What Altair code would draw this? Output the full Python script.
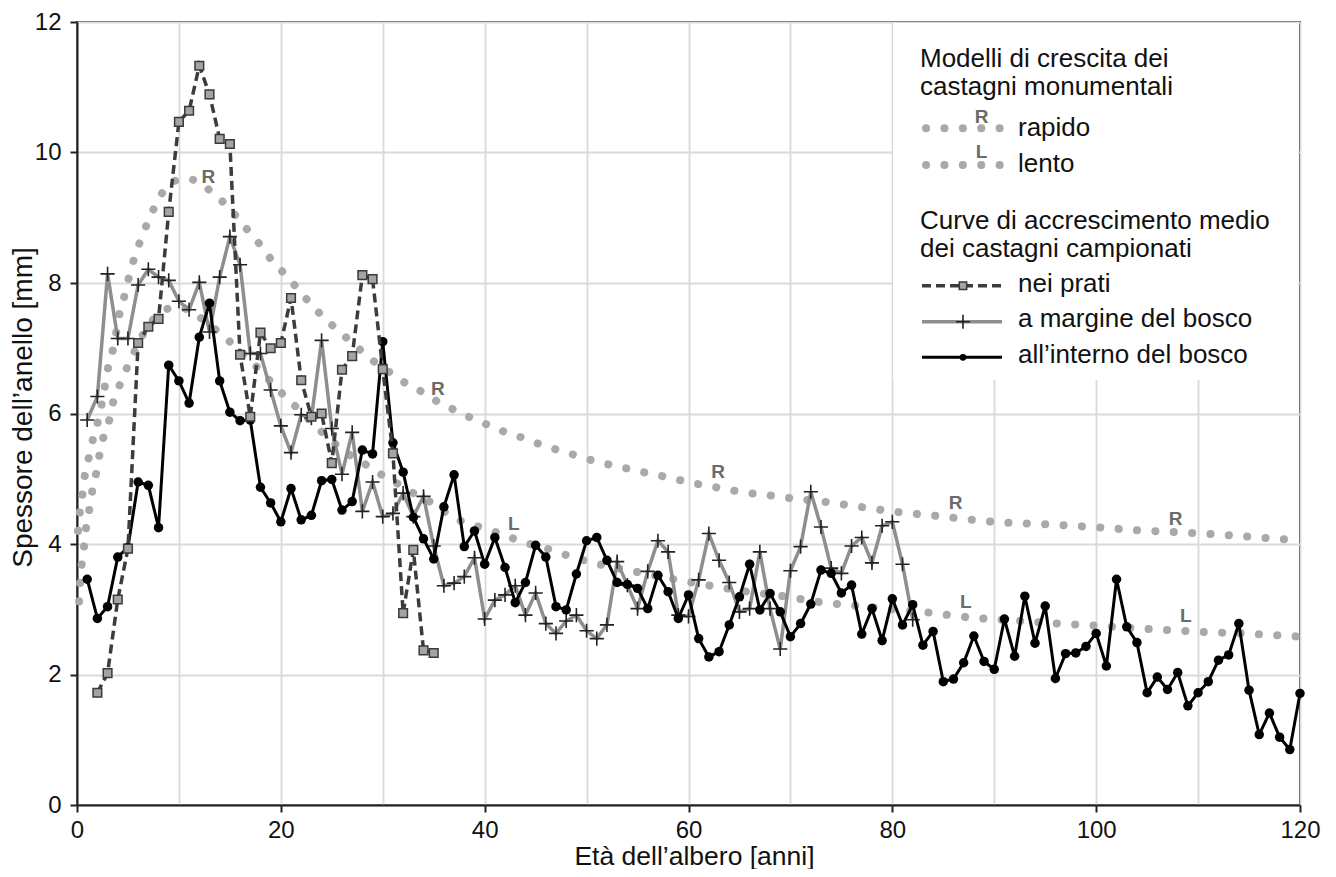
import altair as alt
import pandas as pd

# ---------------- data ----------------
prati_x = list(range(2, 36))
prati_y = [1.72, 2.02, 3.15, 3.93, 7.08, 7.33, 7.45, 9.09, 10.47, 10.64,
           11.33, 10.89, 10.21, 10.13, 6.9, 5.95, 7.24, 7.0, 7.08, 7.77,
           6.51, 5.95, 6.0, 5.24, 6.67, 6.88, 8.12, 8.06, 6.68, 5.39,
           2.94, 3.91, 2.37, 2.33]

margine_x = list(range(1, 83))
margine_y = [5.9, 6.26, 8.14, 7.15, 7.15, 7.97, 8.21, 8.09, 8.04, 7.72,
             7.59, 8.01, 7.25, 8.09, 8.71, 8.28, 6.92, 6.92, 6.36, 5.81,
             5.4, 5.98, 5.93, 7.12, 5.77, 5.07, 5.71, 4.5, 4.95, 4.42,
             4.47, 4.78, 4.42, 4.73, 3.97, 3.36, 3.4, 3.5, 3.79, 2.85,
             3.14, 3.22, 3.36, 2.91, 3.25, 2.78, 2.63, 2.82, 2.91, 2.67,
             2.55, 2.76, 3.73, 3.37, 3.01, 3.58, 4.05, 3.88, 2.91, 2.89,
             3.45, 4.16, 3.75, 3.41, 2.96, 3.01, 3.88, 3.01, 2.39, 3.59,
             3.96, 4.8, 4.26, 3.63, 3.55, 3.97, 4.1, 3.71, 4.28, 4.34,
             3.69, 2.84]

interno_x = list(range(1, 121))
interno_y = [3.46, 2.86, 3.04, 3.8, 3.95, 4.95, 4.9, 4.25, 6.74, 6.5,
             6.16, 7.17, 7.69, 6.5, 6.02, 5.89, 5.9, 4.87, 4.63, 4.34,
             4.85, 4.37, 4.44, 4.97, 4.99, 4.52, 4.65, 5.44, 5.38, 7.1,
             5.55, 5.1, 4.41, 4.08, 3.77, 4.57, 5.06, 3.96, 4.2, 3.69,
             4.1, 3.64, 3.1, 3.41, 3.98, 3.8, 3.04, 2.99, 3.54, 4.05,
             4.1, 3.75, 3.41, 3.38, 3.32, 3.01, 3.52, 3.27, 2.86, 3.22,
             2.55, 2.27, 2.35, 2.76, 3.19, 3.69, 2.99, 3.24, 2.96, 2.58,
             2.78, 3.08, 3.6, 3.55, 3.25, 3.37, 2.62, 3.01, 2.52, 3.16,
             2.76, 3.07, 2.45, 2.66, 1.89, 1.93, 2.18, 2.59, 2.2, 2.08,
             2.85, 2.28, 3.2, 2.48, 3.05, 1.94, 2.32, 2.33, 2.43, 2.63,
             2.13, 3.46, 2.73, 2.49, 1.72, 1.96, 1.77, 2.03, 1.52, 1.72,
             1.89, 2.22, 2.3, 2.78, 1.76, 1.08, 1.41, 1.04, 0.85, 1.71]

rapido_x = [0.1, 0.3, 0.56, 0.78, 1.2, 1.6, 2.09, 2.6, 3.07, 3.56,
            4.2, 4.7, 5.1, 5.6, 6.2, 6.9, 7.6, 8.4, 9.1, 9.9,
            10.8, 11.6, 13.1, 14.4, 15.7, 16.8, 18.0, 19.0, 20.3, 21.5,
            22.7, 23.9, 25.2, 26.6, 27.9, 29.2, 30.8, 32.3, 34.0, 35.4,
            37.1, 38.7, 40.4, 42.1, 43.7, 45.4, 47.2, 48.9, 50.6, 52.4,
            54.2, 55.9, 57.7, 59.4, 61.2, 63.0, 64.7, 66.5, 68.3, 70.1,
            73.7, 75.5, 80.0, 85.0, 89.9, 95.3, 100.6, 104.2, 107.9, 111.5,
            115.1, 118.7, 120.0]
rapido_y = [4.2, 4.52, 4.79, 5.07, 5.35, 5.63, 5.9, 6.3, 6.72, 7.0,
            7.55, 7.83, 8.09, 8.37, 8.64, 8.92, 9.16, 9.39, 9.52, 9.58,
            9.6, 9.57, 9.41, 9.23, 9.01, 8.8, 8.58, 8.37, 8.15, 7.94,
            7.72, 7.52, 7.33, 7.14, 6.96, 6.79, 6.62, 6.46, 6.32, 6.18,
            6.05, 5.93, 5.82, 5.71, 5.63, 5.53, 5.44, 5.36, 5.28, 5.21,
            5.15, 5.09, 5.03, 4.97, 4.91, 4.86, 4.81, 4.77, 4.74, 4.7,
            4.64, 4.6, 4.5, 4.42, 4.34, 4.3, 4.25, 4.21, 4.18, 4.15,
            4.11, 4.07, 4.06]

lento_x = [0.2, 0.3, 0.46, 0.69, 0.88, 1.2, 1.54, 1.9, 2.19, 2.58,
           3.17, 3.56, 4.2, 4.9, 5.8, 6.8, 8.0, 9.0, 10.0, 11.0,
           12.0, 13.0, 15.0, 17.6, 20.1, 21.5, 23.8, 26.0, 28.4, 29.9,
           31.5, 33.0, 34.6, 36.3, 38.0, 40.0, 42.0, 44.0, 46.3, 48.0,
           51.5, 55.0, 58.6, 62.2, 65.8, 69.3, 72.9, 76.0, 80.0, 83.5,
           87.2, 92.7, 96.3, 99.9, 103.5, 107.1, 110.7, 114.3, 117.9, 120.0]
lento_y = [3.12, 3.4, 3.68, 3.96, 4.24, 4.52, 4.85, 5.1, 5.35, 5.63,
           5.9, 6.18, 6.44, 6.7, 7.0, 7.3, 7.52, 7.61, 7.63, 7.58,
           7.48, 7.36, 7.1, 6.72, 6.31, 6.1, 5.75, 5.45, 5.21, 5.06,
           4.92, 4.78, 4.65, 4.47, 4.33, 4.24, 4.13, 4.02, 3.92, 3.83,
           3.68, 3.57, 3.46, 3.36, 3.27, 3.2, 3.11, 3.06, 3.0, 2.95,
           2.88, 2.82, 2.78, 2.75, 2.71, 2.68, 2.65, 2.63, 2.6, 2.58]

r_label_x = [12.9, 35.4, 62.9, 86.2, 107.8]
r_label_y = [9.62, 6.38, 5.1, 4.63, 4.39]
l_label_x = [42.85, 87.2, 108.8]
l_label_y = [4.3, 3.11, 2.89]

x_grid = list(range(0, 121, 10))
y_grid = list(range(0, 13, 2))

# ---------------- tables ----------------
df_prati = pd.DataFrame({"x": prati_x, "y": prati_y})
df_margine = pd.DataFrame({"x": margine_x, "y": margine_y})
df_interno = pd.DataFrame({"x": interno_x, "y": interno_y})
df_rapido = pd.DataFrame({"x": rapido_x, "y": rapido_y})
df_lento = pd.DataFrame({"x": lento_x, "y": lento_y})
df_lab = pd.DataFrame({"x": r_label_x + l_label_x, "y": r_label_y + l_label_y,
                       "t": ["R"] * len(r_label_x) + ["L"] * len(l_label_x)})
one = pd.DataFrame({"v": [0]})

FONT = "Liberation Sans"
W, H = 1223, 783
DOT = "#a9a9a9"
PLUS = "M-1,0L1,0M0,-1L0,1"
LEG_FS = 26

X = alt.X("x:Q",
          scale=alt.Scale(domain=[0, 120], nice=False, zero=False),
          axis=alt.Axis(values=x_grid,
                        labelExpr="datum.value % 20 === 0 ? datum.label : ''",
                        tickOpacity={"condition": {"test": "datum.value % 20 === 0", "value": 1},
                                     "value": 0},
                        labelFlush=False, labelOverlap=False, labelPadding=6,
                        title="Età dell’albero [anni]", titleFontSize=26.5,
                        titleX=617, titleY=59, titleBaseline="alphabetic"))
Y = alt.Y("y:Q",
          scale=alt.Scale(domain=[0, 12], nice=False, zero=False),
          axis=alt.Axis(values=y_grid, labelPadding=9, labelOverlap=False,
                        title="Spessore dell’anello [mm]",
                        titleX=-46, titleY=385, titleAngle=270,
                        titleBaseline="alphabetic"))

rapido = alt.Chart(df_rapido).mark_line(
    color=DOT, strokeWidth=8, strokeCap="round", strokeDash=[0.1, 18.3],
    interpolate="monotone").encode(x=X, y=Y, order="x:Q")
lento = alt.Chart(df_lento).mark_line(
    color=DOT, strokeWidth=8, strokeCap="round", strokeDash=[0.1, 18.3],
    interpolate="monotone").encode(x=X, y=Y, order="x:Q")
labels = alt.Chart(df_lab).mark_text(
    font=FONT, fontSize=19, fontWeight="bold", color="#6b6b6b",
    align="center", baseline="middle").encode(x=X, y=Y, text="t:N")

marg_line = alt.Chart(df_margine).mark_line(color="#8e8e8e", strokeWidth=3.5).encode(x=X, y=Y)
marg_pts = alt.Chart(df_margine).mark_point(
    shape=PLUS, size=200, filled=False, stroke="#222222", strokeWidth=1.6,
    opacity=1).encode(x=X, y=Y)
int_line = alt.Chart(df_interno).mark_line(color="#000000", strokeWidth=3).encode(x=X, y=Y)
int_pts = alt.Chart(df_interno).mark_point(
    shape="circle", size=90, filled=True, color="#000000", opacity=1).encode(x=X, y=Y)
prati_line = alt.Chart(df_prati).mark_line(
    color="#3c3c3c", strokeWidth=3.5, strokeDash=[9, 5]).encode(x=X, y=Y)
prati_pts = alt.Chart(df_prati).mark_point(
    shape="square", size=75, filled=True, fill="#a4a4a4", stroke="#3a3a3a",
    strokeWidth=1.5, opacity=1).encode(x=X, y=Y)

# ---------------- legend (drawn inside the plot, top right) ----------------
def txt(s, x, y, size=LEG_FS, **kw):
    return alt.Chart(one).mark_text(
        align="left", baseline="alphabetic", font=FONT, fontSize=size,
        color="#111111", **kw).encode(x=alt.value(x), y=alt.value(y), text=alt.value(s))

leg_box = alt.Chart(one).mark_rect(fill="white").encode(
    x=alt.value(816), x2=alt.value(1221), y=alt.value(1), y2=alt.value(358))

def dotted(y):
    return alt.Chart(one).mark_rule(
        color=DOT, strokeWidth=8, strokeCap="round", strokeDash=[0.1, 18.3]).encode(
        x=alt.value(849), x2=alt.value(923.5), y=alt.value(y))

leg_layers = [
    leg_box,
    txt("Modelli di crescita dei", 843, 45),
    txt("castagni monumentali", 843, 73),
    dotted(106.3),
    alt.Chart(one).mark_text(font=FONT, fontSize=19, fontWeight="bold", color="#6b6b6b",
                             align="center", baseline="middle").encode(
        x=alt.value(904.5), y=alt.value(94.5), text=alt.value("R")),
    txt("rapido", 941, 114),
    dotted(143),
    alt.Chart(one).mark_text(font=FONT, fontSize=19, fontWeight="bold", color="#6b6b6b",
                             align="center", baseline="middle").encode(
        x=alt.value(904.5), y=alt.value(129.5), text=alt.value("L")),
    txt("lento", 941, 150),
    txt("Curve di accrescimento medio", 843, 207),
    txt("dei castagni campionati", 843, 235),
    alt.Chart(one).mark_rule(color="#3c3c3c", strokeWidth=3.5, strokeDash=[9, 5]).encode(
        x=alt.value(845), x2=alt.value(925), y=alt.value(263.7)),
    alt.Chart(one).mark_point(shape="square", size=55, filled=True, fill="#a4a4a4",
                              stroke="#3a3a3a", strokeWidth=1.5, opacity=1).encode(
        x=alt.value(886), y=alt.value(263.7)),
    txt("nei prati", 941, 269.5),
    alt.Chart(one).mark_rule(color="#8e8e8e", strokeWidth=3.5).encode(
        x=alt.value(845), x2=alt.value(925), y=alt.value(299.7)),
    alt.Chart(one).mark_point(shape=PLUS, size=200, filled=False, stroke="#222222",
                              strokeWidth=1.6, opacity=1).encode(
        x=alt.value(886), y=alt.value(299.7)),
    txt("a margine del bosco", 941, 305.3),
    alt.Chart(one).mark_rule(color="#000000", strokeWidth=3).encode(
        x=alt.value(845), x2=alt.value(925), y=alt.value(335.3)),
    alt.Chart(one).mark_point(shape="circle", size=45, filled=True, color="#000000",
                              opacity=1).encode(x=alt.value(886), y=alt.value(335.3)),
    txt("all’interno del bosco", 941, 341.3),
]

chart = alt.layer(
    rapido, lento, labels,
    marg_line, marg_pts, int_line, int_pts, prati_line, prati_pts,
    *leg_layers
).properties(
    width=W, height=H,
    autosize=alt.AutoSizeParams(type="none"),
    padding={"left": 69, "top": 14, "right": 22, "bottom": 64},
    background="white",
).configure_axis(
    labelFont=FONT, titleFont=FONT, labelFontSize=24, titleFontSize=28,
    labelColor="#111111", titleColor="#111111", titleFontWeight="normal",
    domainColor="#222222", domainWidth=2, tickColor="#222222", tickWidth=2,
    tickSize=7, gridColor="#dadada", gridWidth=1.8,
).configure_view(stroke="#333333", strokeWidth=2)

chart.save("out.html", embed_options={"renderer": "svg", "actions": False})
